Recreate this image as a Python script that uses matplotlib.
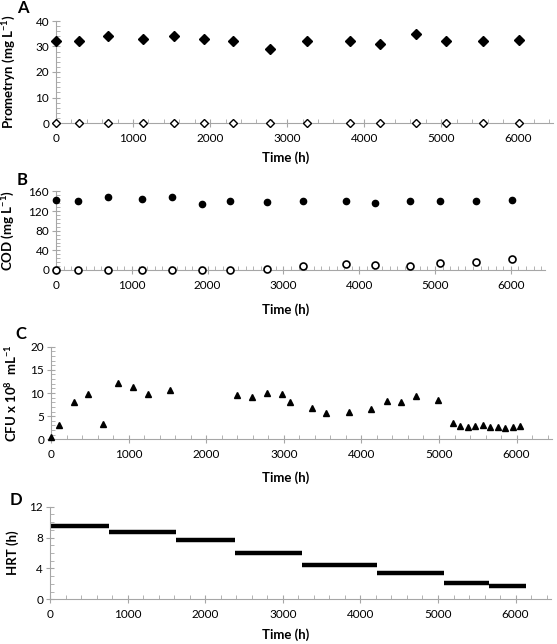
import numpy as np
import matplotlib
matplotlib.use('Agg')
import matplotlib.pyplot as plt
from matplotlib.ticker import MultipleLocator

plt.rcParams['font.family'] = ['Lato', 'DejaVu Sans']
plt.rcParams['mathtext.fontset'] = 'custom'
plt.rcParams['mathtext.rm'] = 'Lato'
plt.rcParams['mathtext.bf'] = 'Lato:bold'

# Panel A / B sampling times (h)
t_ab = [0, 295, 680, 1130, 1525, 1920, 2300, 2780, 3255, 3820, 4205, 4675, 5060, 5540, 6015]
prom_in = [32, 32, 34, 33, 34, 33, 32, 29, 32, 32, 31, 35, 32, 32, 32.5]
prom_out = [0] * 15
cod_in = [142, 141, 149, 145, 149, 134.5, 141, 138, 141, 141, 136.5, 141, 141, 141, 143.5]
cod_out = [0, 0, 0, 0, 0, 0, 0, 2.7, 8, 12, 9.5, 8, 13.5, 15.5, 21.5]

# Panel C
t_c = [0, 100, 290, 480, 670, 865, 1060, 1245, 1530, 2395, 2595, 2785, 2975, 3075,
       3360, 3550, 3835, 4125, 4325, 4510, 4700, 4990, 5180, 5275, 5375, 5470, 5565,
       5660, 5760, 5855, 5950, 6045]
cfu = [0.5, 3, 8, 9.7, 3.3, 12.2, 11.3, 9.8, 10.7, 9.5, 9.1, 10, 9.7, 8,
       6.7, 5.7, 6, 6.5, 8.3, 8.1, 9.3, 8.5, 3.6, 2.8, 2.7, 2.8, 3.0,
       2.7, 2.7, 2.5, 2.7, 2.8]

# Panel D
hrt = [9.5, 8.75, 7.7, 6.0, 4.4, 3.35, 2.1, 1.7]
hrt_start = [0, 760, 1620, 2385, 3245, 4210, 5075, 5655]
hrt_end = [760, 1620, 2385, 3245, 4210, 5075, 5655, 6135]

W, H = 557, 644
fig = plt.figure(figsize=(W / 100, H / 100), dpi=100)

GRAY = '#a6a6a6'


def make_ax(l, r, t, b):
    ax = fig.add_axes([l / W, 1 - b / H, (r - l) / W, (b - t) / H])
    for s in ['top', 'right']:
        ax.spines[s].set_visible(False)
    for s in ['left', 'bottom']:
        ax.spines[s].set_color(GRAY)
        ax.spines[s].set_linewidth(0.8)
    ax.tick_params(which='major', direction='inout', length=6, width=0.8,
                   color=GRAY, labelsize=8.5, pad=2)
    ax.tick_params(which='minor', direction='in', length=3, width=0.6, color=GRAY)
    ax.tick_params(axis='x', which='major', pad=4)
    ax.set_xlim(0, 6450)
    ax.xaxis.set_major_locator(MultipleLocator(1000))
    ax.set_xlabel('Time (h)', fontsize=9.5, fontweight='bold')
    return ax


def place_labels(ax, l, r, t, b, ylab_right, xlab_top):
    # pixel positions -> axes fraction
    ax.yaxis.set_label_coords((ylab_right - l) / (r - l), 0.5)
    ax.xaxis.set_label_coords((286 - l) / (r - l), (b - xlab_top) / (b - t))


# A
L, R, T, B = 56, 553, 21, 123
axA = make_ax(L, R, T, B)
axA.plot(t_ab, prom_in, 'D', color='black', ms=5, clip_on=False, zorder=5)
axA.plot(t_ab, prom_out, 'D', mfc='white', mec='black', mew=1, ms=4.5, clip_on=False, zorder=5)
axA.set_ylim(0, 40)
axA.yaxis.set_major_locator(MultipleLocator(10))
axA.yaxis.set_minor_locator(MultipleLocator(2))
axA.xaxis.set_minor_locator(MultipleLocator(200))
axA.set_ylabel(r'Prometryn (mg L$^{\mathbf{-1}}$)', fontsize=9.5, fontweight='bold')
place_labels(axA, L, R, T, B, 18, 151)
fig.text(23 / W, 1 - 8 / H, 'A', fontsize=12, fontweight='bold', ha='center', va='center')

# B
L, R, T, B = 56, 545, 191.5, 270
axB = make_ax(L, R, T, B)
axB.plot(t_ab, cod_in, 'o', color='black', ms=4.5, clip_on=False, zorder=5)
axB.plot(t_ab, cod_out, 'o', mfc='white', mec='black', mew=1.2, ms=5, clip_on=False, zorder=5)
axB.set_ylim(0, 160)
axB.yaxis.set_major_locator(MultipleLocator(40))
axB.yaxis.set_minor_locator(MultipleLocator(8))
axB.xaxis.set_minor_locator(MultipleLocator(100))
axB.set_ylabel(r'COD (mg L$^{\mathbf{-1}}$)', fontsize=9.5, fontweight='bold')
place_labels(axB, L, R, T, B, 17, 303)
fig.text(22 / W, 1 - 180 / H, 'B', fontsize=12, fontweight='bold', ha='center', va='center')

# C
L, R, T, B = 51, 551.5, 346.7, 439.3
axC = make_ax(L, R, T, B)
axC.plot(t_c, cfu, '^', color='black', ms=5, clip_on=False, zorder=5)
axC.set_ylim(0, 20)
axC.yaxis.set_major_locator(MultipleLocator(5))
axC.yaxis.set_minor_locator(MultipleLocator(1))
axC.xaxis.set_minor_locator(MultipleLocator(200))
axC.set_ylabel(r'CFU x 10$^{\mathbf{8}}$  mL$^{\mathbf{-1}}$', fontsize=9.5, fontweight='bold')
place_labels(axC, L, R, T, B, 19, 471)
fig.text(21 / W, 1 - 334 / H, 'C', fontsize=12, fontweight='bold', ha='center', va='center')

# D
L, R, T, B = 50, 550.5, 506.7, 599.3
axD = make_ax(L, R, T, B)
axD.hlines(hrt, hrt_start, hrt_end, colors='black', lw=3.2)
axD.set_ylim(0, 12)
axD.yaxis.set_major_locator(MultipleLocator(4))
axD.yaxis.set_minor_locator(MultipleLocator(1))
axD.xaxis.set_minor_locator(MultipleLocator(200))
axD.set_ylabel('HRT (h)', fontsize=9.5, fontweight='bold')
place_labels(axD, L, R, T, B, 19, 628)
fig.text(16 / W, 1 - 500 / H, 'D', fontsize=12, fontweight='bold', ha='center', va='center')

fig.savefig('out.png', dpi=100)
